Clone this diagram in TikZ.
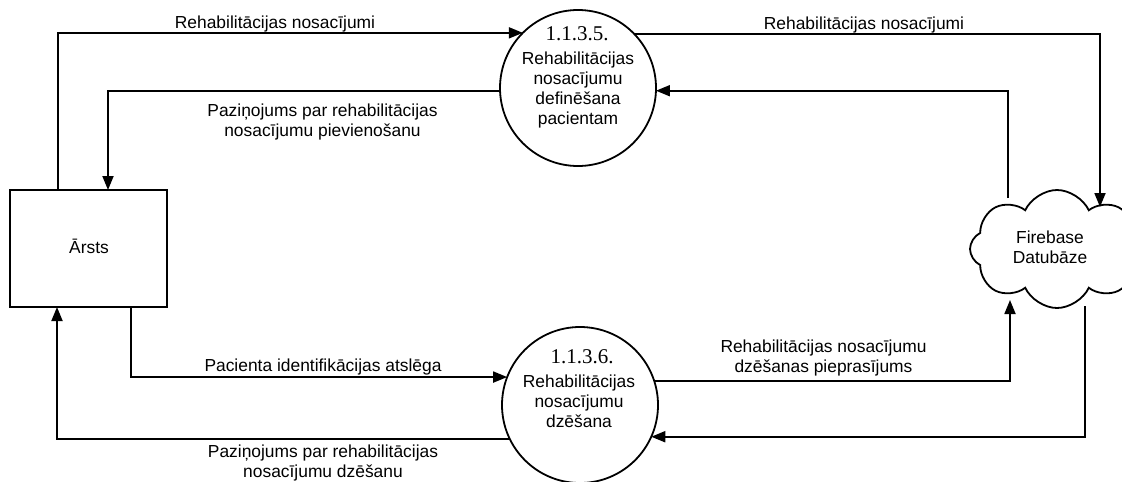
\documentclass[tikz,border=0pt]{standalone}
\usepackage{fontspec}
\setmainfont{Liberation Sans}
\newfontfamily\numfont{Liberation Serif}
\usetikzlibrary{arrows.meta,shapes.symbols}
\begin{document}
\begin{tikzpicture}[x=1pt,y=-1pt,
  lw/.style={line width=1.8pt},
  arr/.style={lw,-{Triangle[length=14pt,width=11pt]}},
  proc/.style={circle,draw,lw,minimum size=156pt,inner sep=0pt,outer sep=0pt},
  ent/.style={rectangle,draw,lw,minimum width=157pt,minimum height=117pt,inner sep=0pt,outer sep=0pt},
  store/.style={cloud,draw,lw,cloud puffs=8,cloud puff arc=130,cloud ignores aspect,
     minimum width=174pt,minimum height=118pt,inner sep=0pt,outer sep=0pt},
  txt/.style={inner sep=0pt,align=center,font=\fontsize{17.4}{20}\selectfont},
  num/.style={inner sep=0pt,font=\numfont\fontsize{21}{24}\selectfont},
]
\useasboundingbox (0,0) rectangle (1122,482);

% nodes
\node[ent] (arsts) at (88.5,248.5) {};
\node[txt,anchor=base] (arststxt) at (89,253) {Ārsts};
\node[proc] (p1) at (578,88) {};
\node[proc] (p2) at (580,405) {};
\node[store] (db) at (1057,249) {};
\node[txt] (dbtxt) at (1050,247) {Firebase\\Datubāze};

% process texts
\node[num,anchor=base] (p1num) at (577,40) {1.1.3.5.};
\node[txt] (p1txt) at (578,89.5) {Rehabilitācijas\\nosacījumu\\definēšana\\pacientam};
\node[num,anchor=base] (p2num) at (582,363) {1.1.3.6.};
\node[txt] (p2txt) at (579,401.7) {Rehabilitācijas\\nosacījumu\\dzēšana};

% cloud connection points
\coordinate (dbA) at (1100,207);
\coordinate (dbB) at (1008,198);
\coordinate (dbC) at (1010,300);
\coordinate (dbD) at (1085,306);

% connectors
\draw[arr] ([xshift=-30.5pt]arsts.north) |- (p1.135.16);
\draw[arr] (p1.182.2) -| ([xshift=19.5pt]arsts.north);
\draw[arr] (p1.44.84) -| (dbA);
\draw[arr] (dbB) |- (p1.-2.2);
\draw[arr] ([xshift=42.5pt]arsts.south) |- (p2.159.47);
\draw[arr] (p2.206.2) -| ([xshift=-31.5pt]arsts.south);
\draw[arr] (p2.18.94) -| (dbC);
\draw[arr] (dbD) |- (p2.-24.56);

% labels
\node[txt,anchor=base] (l1) at (275,28) {Rehabilitācijas nosacījumi};
\node[txt] (l2) at (322.5,121.5) {Paziņojums par rehabilitācijas\\nosacījumu pievienošanu};
\node[txt,anchor=base] (l3) at (864,29) {Rehabilitācijas nosacījumi};
\node[txt,anchor=base] (l4) at (323,371) {Pacienta identifikācijas atslēga};
\node[txt] (l5) at (323,462.5) {Paziņojums par rehabilitācijas\\nosacījumu dzēšanu};
\node[txt] (l6) at (823.5,358) {Rehabilitācijas nosacījumu\\dzēšanas pieprasījums};
\end{tikzpicture}
\end{document}
